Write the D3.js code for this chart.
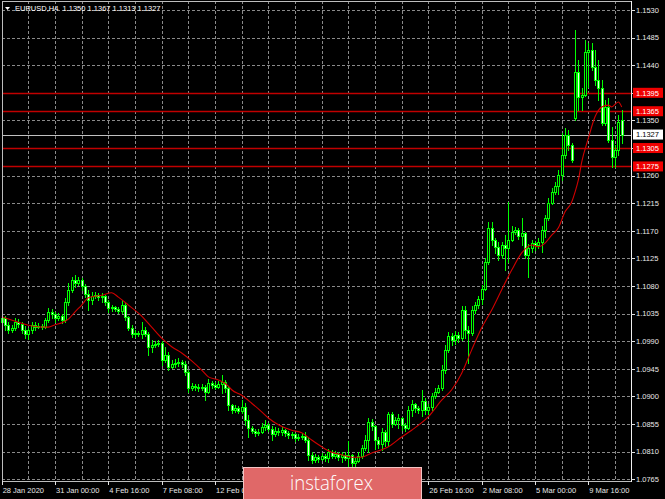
<!DOCTYPE html>
<html><head><meta charset="utf-8">
<script src="https://cdn.jsdelivr.net/npm/d3@7"></script>
<style>html,body{margin:0;padding:0;background:#000;overflow:hidden}</style>
</head><body><svg id="c" width="665" height="499"></svg>
<script>
const chartTitle = "EURUSD,H4";
const lastBarOHLC = ["1.1350","1.1367","1.1313","1.1327"];

const barOpen = [1.1021,1.1028,1.1017,1.1008,1.1012,1.1021,1.1018,1.1008,1.1002,1.1008,
1.1017,1.1013,1.1015,1.1013,1.1025,1.1038,1.1034,1.1028,1.1031,1.1025,
1.1054,1.1074,1.1090,1.1085,1.1090,1.1080,1.1067,1.1057,1.1064,1.1065,
1.1062,1.1064,1.1054,1.1044,1.1046,1.1043,1.1039,1.1049,1.1030,1.1012,
1.1002,1.1004,1.1002,1.1008,1.1002,1.0981,1.0984,1.0986,1.0987,1.0960,
1.0968,1.0948,1.0953,1.0955,1.0956,1.0953,1.0940,1.0914,1.0917,1.0915,
1.0914,1.0915,1.0907,1.0922,1.0919,1.0915,1.0920,1.0924,1.0914,1.0886,
1.0878,1.0881,1.0876,1.0883,1.0862,1.0849,1.0844,1.0841,1.0842,1.0850,
1.0854,1.0847,1.0839,1.0844,1.0842,1.0845,1.0841,1.0837,1.0839,1.0832,
1.0834,1.0836,1.0829,1.0805,1.0797,1.0801,1.0798,1.0803,1.0800,1.0809,
1.0803,1.0806,1.0801,1.0805,1.0800,1.0805,1.0792,1.0795,1.0803,1.0816,
1.0829,1.0858,1.0852,1.0829,1.0823,1.0842,1.0827,1.0872,1.0855,1.0862,
1.0865,1.0854,1.0849,1.0878,1.0888,1.0881,1.0878,1.0893,1.0878,1.0883,
1.0901,1.0907,1.0914,1.0943,1.0976,1.0999,1.0992,1.1000,1.0995,1.1041,
1.1008,1.1004,1.1041,1.1049,1.1059,1.1075,1.1119,1.1175,1.1155,1.1144,
1.1131,1.1147,1.1142,1.1155,1.1168,1.1171,1.1162,1.1166,1.1131,1.1142,
1.1150,1.1147,1.1152,1.1171,1.1191,1.1215,1.1233,1.1243,1.1261,1.1294,
1.1326,1.1310,1.1354,1.1429,1.1388,1.1391,1.1461,1.1465,1.1437,1.1416,
1.1403,1.1346,1.1372,1.1318,1.1290,1.1302,1.1350];

const barHigh = [1.1033,1.1031,1.1021,1.1017,1.1028,1.1026,1.1021,1.1015,1.1012,1.1021,
1.1021,1.1020,1.1018,1.1028,1.1044,1.1043,1.1038,1.1036,1.1034,1.1061,
1.1085,1.1095,1.1098,1.1095,1.1093,1.1083,1.1074,1.1070,1.1070,1.1069,
1.1069,1.1065,1.1057,1.1049,1.1048,1.1046,1.1057,1.1052,1.1031,1.1017,
1.1008,1.1007,1.1021,1.1013,1.1005,1.0992,1.0990,1.0992,1.0990,1.0981,
1.0973,1.0960,1.0961,1.0963,1.0960,1.0958,1.0943,1.0922,1.0920,1.0920,
1.0920,1.0919,1.0929,1.0925,1.0924,1.0925,1.0935,1.0927,1.0917,1.0888,
1.0886,1.0885,1.0894,1.0889,1.0870,1.0852,1.0847,1.0847,1.0857,1.0862,
1.0857,1.0852,1.0850,1.0849,1.0850,1.0847,1.0844,1.0842,1.0841,1.0839,
1.0841,1.0842,1.0832,1.0809,1.0806,1.0805,1.0808,1.0806,1.0814,1.0813,
1.0811,1.0809,1.0809,1.0809,1.0827,1.0806,1.0800,1.0809,1.0821,1.0837,
1.0865,1.0863,1.0854,1.0834,1.0849,1.0845,1.0875,1.0875,1.0867,1.0872,
1.0867,1.0857,1.0885,1.0894,1.0889,1.0885,1.0911,1.0898,1.0888,1.0906,
1.0914,1.0919,1.0951,1.0984,1.1005,1.1004,1.1007,1.1005,1.1048,1.1048,
1.1015,1.1048,1.1054,1.1064,1.1082,1.1126,1.1184,1.1184,1.1158,1.1152,
1.1152,1.1163,1.1217,1.1178,1.1176,1.1175,1.1191,1.1168,1.1149,1.1155,
1.1153,1.1158,1.1178,1.1196,1.1224,1.1240,1.1250,1.1269,1.1330,1.1338,
1.1334,1.1313,1.1497,1.1449,1.1403,1.1481,1.1476,1.1476,1.1465,1.1449,
1.1416,1.1383,1.1387,1.1339,1.1310,1.1359,1.1367];

const barLow = [1.1017,1.1008,1.1004,1.1005,1.1008,1.1013,1.1004,1.0995,1.0994,1.1004,
1.1008,1.1012,1.1010,1.1012,1.1021,1.1028,1.1021,1.1025,1.1020,1.1021,
1.1049,1.1070,1.1078,1.1082,1.1074,1.1062,1.1041,1.1051,1.1061,1.1057,
1.1054,1.1049,1.1038,1.1039,1.1039,1.1036,1.1036,1.1025,1.1008,1.0997,
1.0997,1.0999,1.0995,1.0999,1.0968,1.0973,1.0981,1.0982,1.0951,1.0956,
1.0943,1.0946,1.0948,1.0950,1.0948,1.0935,1.0907,1.0911,1.0911,1.0909,
1.0911,1.0894,1.0906,1.0914,1.0912,1.0914,1.0906,1.0907,1.0878,1.0873,
1.0875,1.0873,1.0873,1.0854,1.0834,1.0841,1.0836,1.0837,1.0841,1.0845,
1.0844,1.0829,1.0836,1.0837,1.0837,1.0836,1.0832,1.0832,1.0827,1.0829,
1.0831,1.0826,1.0797,1.0792,1.0793,1.0793,1.0797,1.0795,1.0793,1.0800,
1.0800,1.0797,1.0793,1.0797,1.0785,1.0785,1.0787,1.0793,1.0800,1.0813,
1.0809,1.0845,1.0814,1.0816,1.0813,1.0819,1.0819,1.0850,1.0854,1.0849,
1.0845,1.0844,1.0847,1.0868,1.0875,1.0873,1.0868,1.0872,1.0872,1.0878,
1.0898,1.0906,1.0911,1.0938,1.0973,1.0984,1.0986,1.0989,1.0992,1.0995,
1.0955,1.1000,1.1036,1.1044,1.1051,1.1074,1.1116,1.1147,1.1134,1.1123,
1.1126,1.1106,1.1119,1.1153,1.1165,1.1157,1.1147,1.1126,1.1095,1.1136,
1.1139,1.1142,1.1136,1.1160,1.1188,1.1214,1.1230,1.1230,1.1253,1.1289,
1.1302,1.1282,1.1351,1.1367,1.1367,1.1390,1.1405,1.1432,1.1408,1.1383,
1.1343,1.1343,1.1315,1.1274,1.1274,1.1294,1.1313];

const barClose = [1.1028,1.1017,1.1008,1.1012,1.1021,1.1018,1.1008,1.1002,1.1008,1.1017,
1.1013,1.1015,1.1013,1.1025,1.1038,1.1034,1.1028,1.1031,1.1025,1.1054,
1.1074,1.1090,1.1085,1.1090,1.1080,1.1067,1.1057,1.1064,1.1065,1.1062,
1.1064,1.1054,1.1044,1.1046,1.1043,1.1039,1.1049,1.1030,1.1012,1.1002,
1.1004,1.1002,1.1008,1.1002,1.0981,1.0984,1.0986,1.0987,1.0960,1.0968,
1.0948,1.0953,1.0955,1.0956,1.0953,1.0940,1.0914,1.0917,1.0915,1.0914,
1.0915,1.0907,1.0922,1.0919,1.0915,1.0920,1.0924,1.0914,1.0886,1.0878,
1.0881,1.0876,1.0883,1.0862,1.0849,1.0844,1.0841,1.0842,1.0850,1.0854,
1.0847,1.0839,1.0844,1.0842,1.0845,1.0841,1.0837,1.0839,1.0832,1.0834,
1.0836,1.0829,1.0805,1.0797,1.0801,1.0798,1.0803,1.0800,1.0809,1.0803,
1.0806,1.0801,1.0805,1.0800,1.0805,1.0792,1.0795,1.0803,1.0816,1.0829,
1.0858,1.0852,1.0829,1.0823,1.0842,1.0827,1.0872,1.0855,1.0862,1.0865,
1.0854,1.0849,1.0878,1.0888,1.0881,1.0878,1.0893,1.0878,1.0883,1.0901,
1.0907,1.0914,1.0943,1.0976,1.0999,1.0992,1.1000,1.0995,1.1041,1.1008,
1.1004,1.1041,1.1049,1.1059,1.1075,1.1119,1.1175,1.1155,1.1144,1.1131,
1.1147,1.1142,1.1155,1.1168,1.1171,1.1162,1.1166,1.1131,1.1142,1.1150,
1.1147,1.1152,1.1171,1.1191,1.1215,1.1233,1.1243,1.1261,1.1294,1.1326,
1.1310,1.1286,1.1429,1.1388,1.1391,1.1461,1.1465,1.1437,1.1416,1.1403,
1.1346,1.1372,1.1318,1.1290,1.1302,1.1347,1.1327];

const maIndex = [0,5,9,14,16,18,20,22,24,26,
30,33,35,38,42,45,48,51,54,57,
60,62,65,68,69,72,75,78,80,83,
87,90,93,96,99,102,105,108,111,114,
116,120,123,128,132,135,138,141,144,147,
150,153,156,159,161,163,165,167,169,171,
172,173,174,176,178,180,182,183,185,186];
const maValue = [1.1030,1.1021,1.1015,1.1013,1.1017,1.1020,1.1026,1.1038,1.1049,1.1061,
1.1065,1.1069,1.1062,1.1049,1.1031,1.1013,1.0995,1.0981,1.0971,1.0958,
1.0943,1.0932,1.0927,1.0917,1.0911,1.0902,1.0889,1.0875,1.0865,1.0854,
1.0845,1.0841,1.0829,1.0818,1.0809,1.0805,1.0801,1.0801,1.0808,1.0813,
1.0818,1.0834,1.0845,1.0867,1.0894,1.0911,1.0938,1.0976,1.1012,1.1041,
1.1074,1.1106,1.1134,1.1147,1.1144,1.1150,1.1163,1.1175,1.1201,1.1217,
1.1233,1.1253,1.1282,1.1321,1.1356,1.1372,1.1375,1.1372,1.1380,1.1372];

const priceTicks = ["1.1530","1.1485","1.1440","1.1395","1.1350","1.1305","1.1260","1.1215","1.1170",
"1.1125","1.1080","1.1035","1.0990","1.0945","1.0900","1.0855","1.0810","1.0765"];
// time labels visible in the reference (the ones under the logo are hidden there)
const timeTickIndex = [0,16,32,48,64,128,144,160,176];
const timeTickLabels = ["28 Jan 2020","31 Jan 00:00","4 Feb 16:00","7 Feb 08:00","12 Feb 00:00",
"26 Feb 16:00","2 Mar 08:00","5 Mar 00:00","9 Mar 16:00"];
const levelLines = [1.1395, 1.1365, 1.1305, 1.1275];
const levelLabels = ["1.1395","1.1365","1.1305","1.1275"];
const bidPrice = 1.1327;
const bidLabel = "1.1327";
const logoText = "instaforex";

const svg = d3.select("#c");
const FONT = "'Liberation Sans', Arial, sans-serif";
const L = 2, R = 631, T = 1, B = 481;

const x = d3.scaleLinear().domain([0, 186]).range([1.7, 621.7]);
const y = d3.scaleLinear().domain([1.0765, 1.1530]).range([479.3, 10]);

svg.append("rect").attr("width", 665).attr("height", 499).attr("fill", "#000");

// grid
const grid = svg.append("g").attr("stroke", "#8a8a8a").attr("stroke-width", 1).attr("stroke-dasharray", "3,2");
priceTicks.forEach(p => {
  const yy = Math.round(y(+p)) + 0.5;
  grid.append("line").attr("x1", L).attr("x2", R).attr("y1", yy).attr("y2", yy);
});
d3.range(8, 187, 8).forEach(i => {
  const xx = Math.round(x(i)) + 0.5;
  grid.append("line").attr("x1", xx).attr("x2", xx).attr("y1", T).attr("y2", B);
});

// level lines
levelLines.forEach(p => {
  const yy = Math.round(y(p)) + 0.5;
  svg.append("line").attr("x1", L).attr("x2", R).attr("y1", yy).attr("y2", yy)
    .attr("stroke", "#c00000").attr("stroke-width", 1.5);
});
// bid line
{
  const yy = Math.round(y(bidPrice)) + 0.5;
  svg.append("line").attr("x1", L).attr("x2", R).attr("y1", yy).attr("y2", yy)
    .attr("stroke", "#c0c0c0").attr("stroke-width", 1);
}

// candles
const cg = svg.append("g").attr("shape-rendering", "crispEdges");
barClose.forEach((c, i) => {
  const o = barOpen[i], h = barHigh[i], l = barLow[i];
  const cx = Math.round(x(i));
  const yh = Math.round(y(h)), yl = Math.round(y(l));
  const yo = Math.round(y(o)), yc = Math.round(y(c));
  cg.append("rect").attr("x", cx).attr("y", yh).attr("width", 1).attr("height", Math.max(1, yl - yh + 1)).attr("fill", "#00ff00");
  const top = Math.min(yo, yc), bot = Math.max(yo, yc);
  if (bot - top < 1) {
    cg.append("rect").attr("x", cx - 1).attr("y", top).attr("width", 3).attr("height", 1).attr("fill", "#00ff00");
  } else {
    cg.append("rect").attr("x", cx - 1).attr("y", top).attr("width", 3).attr("height", bot - top + 1).attr("fill", "#00ff00");
    if (bot - top >= 2) {
      cg.append("rect").attr("x", cx).attr("y", top + 1).attr("width", 1).attr("height", bot - top - 1)
        .attr("fill", c < o ? "#e8ffe8" : "#000000");
    }
  }
});

// moving average
const maLine = d3.line().x(d => x(d[0])).y(d => y(d[1])).curve(d3.curveMonotoneX);
svg.append("path").attr("d", maLine(maIndex.map((v, k) => [v, maValue[k]])))
  .attr("fill", "none").attr("stroke", "#d00000").attr("stroke-width", 1.1);

// frame
const fr = svg.append("g").attr("shape-rendering", "crispEdges");
fr.append("line").attr("x1", L + 0.5).attr("x2", L + 0.5).attr("y1", T).attr("y2", B + 1).attr("stroke", "#bdbdbd");
fr.append("line").attr("x1", L).attr("x2", R + 1).attr("y1", T + 0.5).attr("y2", T + 0.5).attr("stroke", "#bdbdbd");
fr.append("line").attr("x1", L).attr("x2", R + 1).attr("y1", B + 0.5).attr("y2", B + 0.5).attr("stroke", "#bdbdbd");
fr.append("line").attr("x1", R + 0.5).attr("x2", R + 0.5).attr("y1", T).attr("y2", B + 1).attr("stroke", "#f0f0f0");

// price axis labels
priceTicks.forEach(p => {
  const yy = Math.round(y(+p)) + 0.5;
  fr.append("line").attr("x1", R).attr("x2", R + 4).attr("y1", yy).attr("y2", yy).attr("stroke", "#e0e0e0");
  svg.append("text").attr("x", 636).attr("y", y(+p) + 2.8).text(p)
    .attr("font-family", FONT).attr("font-size", 7.5).attr("fill", "#e8e8e8");
});

// level labels
levelLines.forEach((p, k) => {
  const yy = y(p);
  svg.append("rect").attr("x", 633).attr("y", yy - 5).attr("width", 30).attr("height", 10).attr("fill", "#f00000");
  svg.append("text").attr("x", 636).attr("y", yy + 2.8).text(levelLabels[k])
    .attr("font-family", FONT).attr("font-size", 7.5).attr("fill", "#ffffff");
});
{
  const yy = y(bidPrice);
  svg.append("rect").attr("x", 633).attr("y", yy - 5).attr("width", 30).attr("height", 10).attr("fill", "#ffffff");
  svg.append("text").attr("x", 636).attr("y", yy + 2.8).text(bidLabel)
    .attr("font-family", FONT).attr("font-size", 7.5).attr("fill", "#000000");
}

// time axis
timeTickIndex.forEach((i, k) => {
  const xx = Math.round(x(i)) + 0.5;
  fr.append("line").attr("x1", xx).attr("x2", xx).attr("y1", B).attr("y2", B + 4).attr("stroke", "#e0e0e0");
  svg.append("text").attr("x", x(i) + 1).attr("y", 492.5).text(timeTickLabels[k])
    .attr("font-family", FONT).attr("font-size", 7.5).attr("fill", "#e8e8e8");
});

// title
svg.append("path").attr("d", "M5,7 L10,7 L7.5,10 Z").attr("fill", "#ffffff");
svg.append("text").attr("x", 15).attr("y", 10.5).style("white-space", "pre")
  .text(chartTitle + "  " + lastBarOHLC.join(" "))
  .attr("font-family", FONT).attr("font-size", 7.5).attr("fill", "#ffffff");

// logo
svg.append("rect").attr("x", 243.5).attr("y", 467.5).attr("width", 178).attr("height", 34)
  .attr("fill", "#e06868").attr("stroke", "#f3c4c4").attr("stroke-width", 1);
svg.append("text").attr("x", 290).attr("y", 490).text(logoText)
  .attr("font-family", "'Open Sans', 'Noto Sans', sans-serif").attr("font-weight", 300)
  .attr("font-size", 21).attr("fill", "#ffffff")
  .attr("textLength", 83).attr("lengthAdjust", "spacingAndGlyphs");
</script>
</body></html>
